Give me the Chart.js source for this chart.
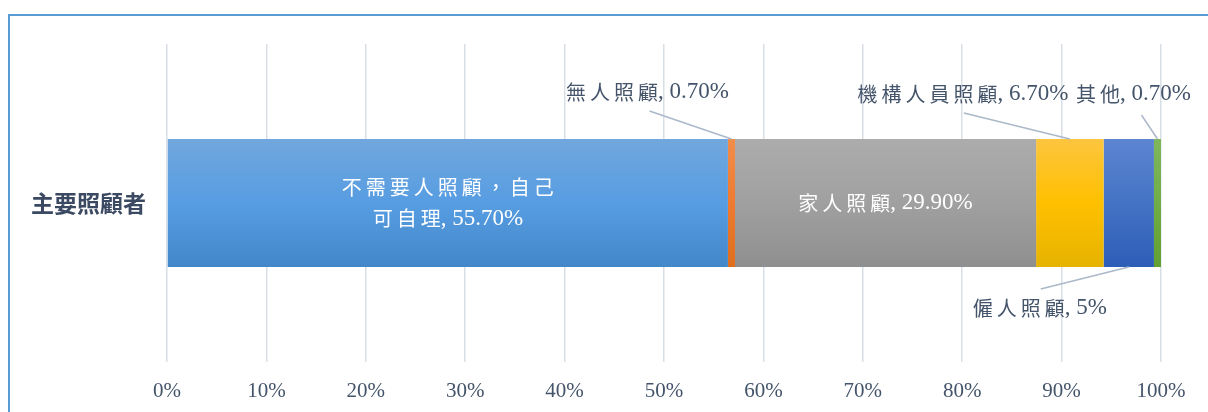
<!DOCTYPE html>
<html>
<head>
<meta charset="utf-8">
<script src="https://cdn.jsdelivr.net/npm/chart.js@4.4.1/dist/chart.umd.min.js"></script>
<style>
  html, body { margin: 0; padding: 0; background: #ffffff; overflow: hidden; }
  #wrap { position: relative; width: 1208px; height: 412px; }
  #frame { position: absolute; left: 8px; top: 14px; width: 1300px; height: 500px; border: 2px solid #5b9bd5; box-sizing: border-box; }
  #c { position: absolute; left: 0; top: 0; }
</style>
</head>
<body>
<div id="wrap">
  <div id="frame"></div>
  <canvas id="c" width="1208" height="412"></canvas>
</div>
<script>
// ---- data ----
const categories = ['主要照顧者'];
const seriesNames = ['不需要人照顧，自己可自理', '無人照顧', '家人照顧', '機構人員照顧', '僱人照顧', '其他'];
const seriesValues = [55.7, 0.7, 29.9, 6.7, 5, 0.7];
const tickLabels = ['0%', '10%', '20%', '30%', '40%', '50%', '60%', '70%', '80%', '90%', '100%'];

// ---- styles ----
const gradients = [
  ['#71a7dd', '#579de2', '#4287c8'],
  ['#f28d4a', '#ee7b30', '#df6e1d'],
  ['#acacac', '#a0a0a0', '#8f8f8f'],
  ['#fdc53f', '#ffc000', '#e6b300'],
  ['#5d86d1', '#4472c4', '#2d5eb7'],
  ['#7fb65c', '#70ad47', '#61a031']
];
const placements = [
  { inside: true },
  { dx: -84, dy: -47, lx: -82, ly: -28, edge: 'top' },
  { inside: true },
  { dx: -107, dy: -45, lx: -106, ly: -26, edge: 'top' },
  { dx: -89, dy: 41, lx: -88, ly: 22, edge: 'bottom' },
  { dx: -24, dy: -45, lx: -16, ly: -24, edge: 'top' }
];
const CAT_PCT = 0.4025;
const CJK_FONT = "20px 'Noto Sans CJK TC', 'Noto Sans CJK SC', sans-serif";
const LAT_FONT = "23px 'Liberation Serif', 'DejaVu Serif', serif";
const CJK_SP = 4;
const LABEL_COLOR = '#44546a';

const total = seriesValues.reduce((a, b) => a + b, 0);
const fmt = v => (Number.isInteger(v) ? v + '%' : v.toFixed(2) + '%');

function isCJK(ch) { return /[\u2E80-\u9FFF\uF900-\uFAFF\uFF00-\uFFEF\u3000-\u303F]/.test(ch); }

function layoutText(ctx, text, maxW) {
  const chars = Array.from(text);
  const pieces = chars.map((ch, i) => {
    const cjk = isCJK(ch);
    const font = cjk ? CJK_FONT : LAT_FONT;
    ctx.font = font;
    const w = ctx.measureText(ch).width;
    const next = chars[i + 1];
    const adv = w + (cjk && next && isCJK(next) ? CJK_SP : 0);
    return { ch, font, w, adv };
  });
  const lines = [];
  let cur = [], curW = 0;
  pieces.forEach(p => {
    if (cur.length && curW + p.w > maxW) { lines.push(cur); cur = []; curW = 0; }
    cur.push(p); curW += p.adv;
  });
  if (cur.length) lines.push(cur);
  return lines.map(l => {
    let w = 0;
    l.forEach((p, i) => { w += (i === l.length - 1) ? p.w : p.adv; });
    return { pieces: l, width: w };
  });
}

function drawRich(ctx, text, cx, cy, color, maxW) {
  const lines = layoutText(ctx, text, maxW);
  const lh = 31;
  ctx.save();
  ctx.fillStyle = color;
  ctx.textBaseline = 'middle';
  ctx.textAlign = 'left';
  lines.forEach((ln, k) => {
    const y = cy + (k - (lines.length - 1) / 2) * lh;
    let x = cx - ln.width / 2;
    ln.pieces.forEach(p => {
      ctx.font = p.font;
      ctx.fillText(p.ch, x, y);
      x += p.adv;
    });
  });
  ctx.restore();
}

const labelPlugin = {
  id: 'segLabels',
  afterDatasetsDraw(chart) {
    const ctx = chart.ctx;
    chart.data.datasets.forEach((ds, i) => {
      const meta = chart.getDatasetMeta(i);
      const el = meta.data[0];
      if (!el) return;
      const { x, base, y, height } = el.getProps(['x', 'base', 'y', 'height'], true);
      const sx = (x + base) / 2;
      const text = ds.label + ', ' + fmt(ds.data[0]);
      const pl = placements[i];
      if (pl.inside) {
        drawRich(ctx, text, sx, y, '#ffffff', 230);
      } else {
        const ey = pl.edge === 'top' ? y - height / 2 : y + height / 2;
        ctx.save();
        ctx.strokeStyle = '#abb8c9';
        ctx.lineWidth = 1.5;
        ctx.beginPath();
        ctx.moveTo(sx + pl.lx, ey + pl.ly);
        ctx.lineTo(sx, ey);
        ctx.stroke();
        ctx.restore();
        drawRich(ctx, text, sx + pl.dx, ey + pl.dy, LABEL_COLOR, 260);
      }
    });
  }
};

function gradFor(i) {
  return function (context) {
    const chart = context.chart;
    const area = chart.chartArea;
    const stops = gradients[i];
    if (!area || !chart.scales.y) return stops[1];
    const c = chart.scales.y.getPixelForValue(0);
    const h = (area.bottom - area.top) * CAT_PCT / 2;
    const g = chart.ctx.createLinearGradient(0, c - h, 0, c + h);
    g.addColorStop(0, stops[0]);
    g.addColorStop(0.5, stops[1]);
    g.addColorStop(1, stops[2]);
    return g;
  };
}

const datasets = seriesNames.map((name, i) => ({
  label: name,
  data: [seriesValues[i]],
  backgroundColor: gradFor(i),
  borderWidth: 0,
  barPercentage: 1,
  categoryPercentage: CAT_PCT
}));

new Chart(document.getElementById('c'), {
  type: 'bar',
  data: { labels: categories, datasets },
  plugins: [labelPlugin],
  options: {
    indexAxis: 'y',
    responsive: false,
    devicePixelRatio: 1,
    animation: false,
    layout: { padding: { top: 44, right: 47, bottom: 0, left: 0 } },
    plugins: { legend: { display: false }, tooltip: { enabled: false } },
    scales: {
      x: {
        stacked: true,
        min: 0,
        max: total,
        afterBuildTicks(s) {
          s.ticks = tickLabels.map((t, i) => ({ value: total * i / (tickLabels.length - 1) }));
        },
        afterFit(s) { s.height = 50; },
        grid: { color: '#d9dfe6', lineWidth: 1.5, drawTicks: false },
        border: { display: false },
        ticks: {
          padding: 17,
          color: LABEL_COLOR,
          font: { family: "'Liberation Serif', serif", size: 21 },
          maxRotation: 0,
          autoSkip: false,
          callback: (v, i) => tickLabels[i]
        }
      },
      y: {
        stacked: true,
        afterFit(s) { s.width = 167; },
        grid: { display: false, drawTicks: false },
        border: { display: false },
        ticks: {
          padding: 21,
          color: '#3b4a62',
          font: { family: "'Noto Sans CJK TC', sans-serif", size: 23, weight: 'bold' }
        }
      }
    }
  }
});
</script>
</body>
</html>
